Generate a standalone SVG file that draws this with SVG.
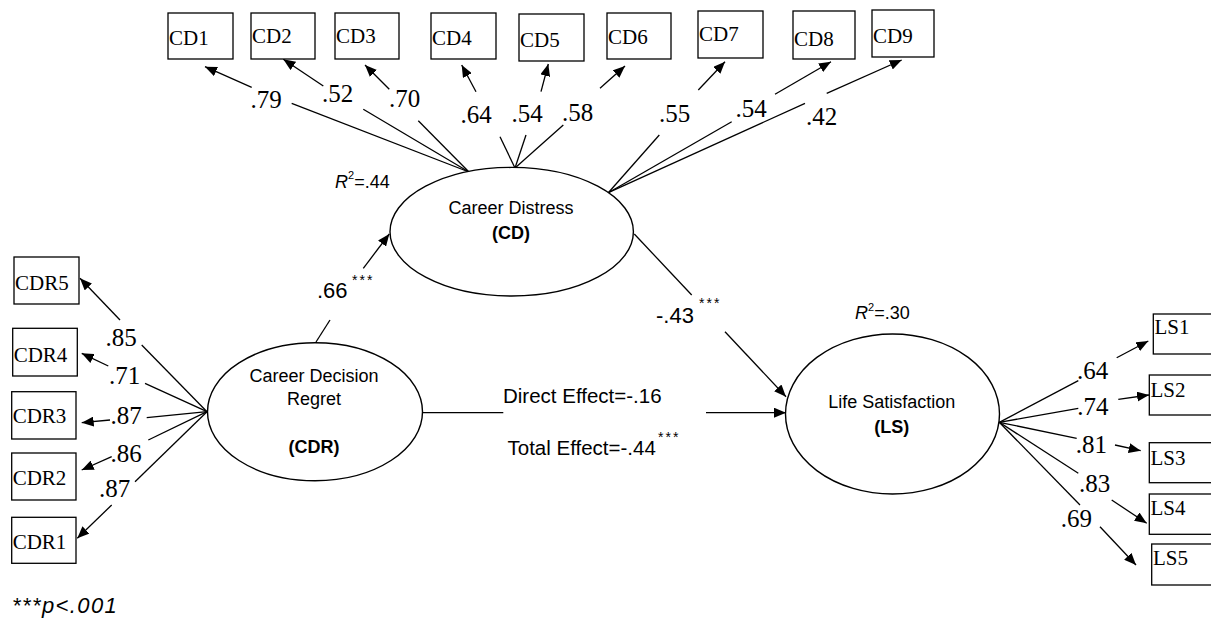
<svg xmlns="http://www.w3.org/2000/svg" width="1211" height="623" viewBox="0 0 1211 623">
<style>
.box{fill:#fff;stroke:#000;stroke-width:1.3}
.ell{fill:#fff;stroke:#000;stroke-width:1.4}
.ln{fill:none;stroke:#000;stroke-width:1.3}
.bt{font-family:"Liberation Serif",serif;font-size:21px;fill:#000}
.num{font-family:"Liberation Serif",serif;font-size:25px;fill:#000}
.lat{font-family:"Liberation Sans",Arial,sans-serif;font-size:18px;fill:#000;text-anchor:middle}
.latb{font-family:"Liberation Sans",Arial,sans-serif;font-size:18px;font-weight:bold;fill:#000;text-anchor:middle}
.sn{font-family:"Liberation Sans",Arial,sans-serif;font-size:22px;fill:#000}
.eff{font-family:"Liberation Sans",Arial,sans-serif;font-size:20.5px;fill:#000}
.r2{font-family:"Liberation Sans",Arial,sans-serif;font-size:18px;fill:#000}
.st{font-family:"Liberation Sans",Arial,sans-serif;font-size:14px;fill:#000;letter-spacing:2px}
</style>
<defs>
<marker id="ah" viewBox="0 0 12 10" refX="12" refY="5" markerWidth="12" markerHeight="10" markerUnits="userSpaceOnUse" orient="auto">
<path d="M0,0 L12,5 L0,10 z" fill="#000"/>
</marker>
</defs>
<rect width="1211" height="623" fill="#fff"/>

<g id="connectors">
<!-- CD indicators -->
<path class="ln" d="M251.7,87.3 L205,66.7" marker-end="url(#ah)"/>
<path class="ln" d="M291.7,103.3 L469,172"/>
<path class="ln" d="M323.3,86 L283.3,59.3" marker-end="url(#ah)"/>
<path class="ln" d="M363.3,109.3 L469,172"/>
<path class="ln" d="M389.3,89.3 L365,65" marker-end="url(#ah)"/>
<path class="ln" d="M418.3,120.7 L469,172"/>
<path class="ln" d="M476,91.7 L461.7,65" marker-end="url(#ah)"/>
<path class="ln" d="M500,136.7 L515,168"/>
<path class="ln" d="M541,91.7 L548.3,64" marker-end="url(#ah)"/>
<path class="ln" d="M526,135 L515,168"/>
<path class="ln" d="M600,88.3 L625,66" marker-end="url(#ah)"/>
<path class="ln" d="M563.3,125 L515,168"/>
<path class="ln" d="M698.3,90 L725,61.7" marker-end="url(#ah)"/>
<path class="ln" d="M659.3,135 L608.3,192.7"/>
<path class="ln" d="M775,94.3 L831,61.7" marker-end="url(#ah)"/>
<path class="ln" d="M731.7,121.7 L608.3,192.7"/>
<path class="ln" d="M826.7,93.3 L901.7,60" marker-end="url(#ah)"/>
<path class="ln" d="M805,103.3 L608.3,192.7"/>
<!-- CDR indicators -->
<path class="ln" d="M120,320 L80,278.3" marker-end="url(#ah)"/>
<path class="ln" d="M141.7,345 L207,411.7"/>
<path class="ln" d="M108.3,366 L81.7,353.3" marker-end="url(#ah)"/>
<path class="ln" d="M145,383.3 L207,411.7"/>
<path class="ln" d="M110,420 L81.7,422.7" marker-end="url(#ah)"/>
<path class="ln" d="M146.7,417.7 L207,411.7"/>
<path class="ln" d="M111.7,456.7 L81.7,470" marker-end="url(#ah)"/>
<path class="ln" d="M148.3,440 L207,411.7"/>
<path class="ln" d="M111.7,505 L77.3,538.3" marker-end="url(#ah)"/>
<path class="ln" d="M135,481.7 L207,411.7"/>
<!-- structural paths -->
<path class="ln" d="M316,342 L330,320"/>
<path class="ln" d="M363.3,268.3 L389.3,234" marker-end="url(#ah)"/>
<path class="ln" d="M634.3,234 L691.7,295"/>
<path class="ln" d="M725,331.7 L786,396.7" marker-end="url(#ah)"/>
<path class="ln" d="M421.7,412.7 L503.3,412.7"/>
<path class="ln" d="M706,412.7 L786,412.7" marker-end="url(#ah)"/>
<!-- LS indicators -->
<path class="ln" d="M999.3,422.3 L1078.3,380.7"/>
<path class="ln" d="M1116.7,357.7 L1148.3,341" marker-end="url(#ah)"/>
<path class="ln" d="M999.3,422.3 L1078.3,408.3"/>
<path class="ln" d="M1118.3,399.3 L1149,395" marker-end="url(#ah)"/>
<path class="ln" d="M999.3,422.3 L1076.7,438.3"/>
<path class="ln" d="M1115,445 L1140.7,450.7" marker-end="url(#ah)"/>
<path class="ln" d="M999.3,422.3 L1078.3,473.3"/>
<path class="ln" d="M1111.7,500 L1146.7,523.3" marker-end="url(#ah)"/>
<path class="ln" d="M999.3,422.3 L1080,505"/>
<path class="ln" d="M1100,526.7 L1136,565" marker-end="url(#ah)"/>
</g>

<g id="node-CD">
<ellipse class="ell" cx="511.7" cy="231.7" rx="121.7" ry="64.3"/>
<text class="lat" x="511" y="214.3">Career Distress</text>
<text class="latb" x="511" y="239">(CD)</text>
</g>
<g id="node-CDR">
<ellipse class="ell" cx="315" cy="411.7" rx="107.5" ry="69"/>
<text class="lat" x="314" y="381.7">Career Decision</text>
<text class="lat" x="314" y="405">Regret</text>
<text class="latb" x="314" y="453.3">(CDR)</text>
</g>
<g id="node-LS">
<ellipse class="ell" cx="892.5" cy="414" rx="107" ry="80"/>
<text class="lat" x="891.7" y="408.3">Life Satisfaction</text>
<text class="latb" x="891.7" y="433.3">(LS)</text>
</g>

<g id="node-CD1"><rect class="box" x="168" y="13" width="65" height="46"/><text class="bt" x="169" y="45">CD1</text></g>
<g id="node-CD2"><rect class="box" x="251" y="13" width="64" height="46"/><text class="bt" x="252" y="43.3">CD2</text></g>
<g id="node-CD3"><rect class="box" x="335" y="13" width="64" height="46"/><text class="bt" x="336" y="43.3">CD3</text></g>
<g id="node-CD4"><rect class="box" x="431" y="13" width="65" height="46"/><text class="bt" x="432" y="45">CD4</text></g>
<g id="node-CD5"><rect class="box" x="519" y="14" width="65" height="47"/><text class="bt" x="520" y="46.5">CD5</text></g>
<g id="node-CD6"><rect class="box" x="607" y="13" width="64" height="46"/><text class="bt" x="608" y="43.5">CD6</text></g>
<g id="node-CD7"><rect class="box" x="698" y="11" width="65" height="47"/><text class="bt" x="699" y="41">CD7</text></g>
<g id="node-CD8"><rect class="box" x="793" y="11" width="62" height="48"/><text class="bt" x="794" y="45.5">CD8</text></g>
<g id="node-CD9"><rect class="box" x="872" y="10" width="62" height="47"/><text class="bt" x="873" y="42.5">CD9</text></g>

<g id="node-CDR5"><rect class="box" x="14" y="257" width="65" height="47"/><text class="bt" x="15" y="290">CDR5</text></g>
<g id="node-CDR4"><rect class="box" x="12.7" y="328.3" width="64.6" height="47.7"/><text class="bt" x="13.7" y="361.7">CDR4</text></g>
<g id="node-CDR3"><rect class="box" x="11.7" y="391.7" width="64.3" height="47.3"/><text class="bt" x="12.7" y="423.3">CDR3</text></g>
<g id="node-CDR2"><rect class="box" x="11.7" y="453" width="64.3" height="47"/><text class="bt" x="12.7" y="485">CDR2</text></g>
<g id="node-CDR1"><rect class="box" x="11.7" y="517.3" width="64.3" height="46"/><text class="bt" x="12.7" y="549.3">CDR1</text></g>

<g id="node-LS1"><rect class="box" x="1153.3" y="314" width="70" height="40"/><text class="bt" x="1154.5" y="334.3">LS1</text></g>
<g id="node-LS2"><rect class="box" x="1149.3" y="375" width="70" height="40"/><text class="bt" x="1150.5" y="396.7">LS2</text></g>
<g id="node-LS3"><rect class="box" x="1149.3" y="442.7" width="70" height="40"/><text class="bt" x="1150.5" y="465">LS3</text></g>
<g id="node-LS4"><rect class="box" x="1149.3" y="494" width="70" height="40.3"/><text class="bt" x="1150.5" y="515">LS4</text></g>
<g id="node-LS5"><rect class="box" x="1151.7" y="544" width="70" height="41"/><text class="bt" x="1152.9" y="565">LS5</text></g>

<g id="labels">
<text class="num" x="250.5" y="108.3">.79</text>
<text class="num" x="322" y="101.7">.52</text>
<text class="num" x="389" y="106.7">.70</text>
<text class="num" x="460.5" y="123.3">.64</text>
<text class="num" x="511.5" y="122">.54</text>
<text class="num" x="562" y="120.7">.58</text>
<text class="num" x="659" y="121.7">.55</text>
<text class="num" x="735.5" y="117.3">.54</text>
<text class="num" x="806" y="125">.42</text>

<text class="num" x="105.5" y="346">.85</text>
<text class="num" x="109" y="384">.71</text>
<text class="num" x="110.5" y="424.3">.87</text>
<text class="num" x="110.5" y="461.7">.86</text>
<text class="num" x="99" y="496.7">.87</text>

<text class="num" x="1077" y="379.3">.64</text>
<text class="num" x="1077.3" y="415">.74</text>
<text class="num" x="1075.7" y="452.7">.81</text>
<text class="num" x="1079" y="491.7">.83</text>
<text class="num" x="1060.7" y="526.7">.69</text>

<text class="r2" x="335" y="188.3"><tspan font-style="italic">R</tspan><tspan font-size="11" dy="-9">2</tspan><tspan dy="9">=.44</tspan></text>
<text class="r2" x="855" y="319.3"><tspan font-style="italic">R</tspan><tspan font-size="11" dy="-8">2</tspan><tspan dy="8">=.30</tspan></text>

<text class="sn" x="317" y="298.3">.66</text>
<text class="st" x="352" y="285">***</text>
<text class="sn" x="656" y="323.3">-.43</text>
<text class="st" x="699" y="308">***</text>

<text class="eff" x="503" y="403.3">Direct Effect=-.16</text>
<text class="eff" x="507.5" y="455">Total Effect=-.44</text>
<text class="st" x="658" y="442">***</text>

<text x="12" y="613" font-family="Liberation Sans, Arial, sans-serif" font-size="22" font-style="italic" letter-spacing="1.4">***p&lt;.001</text>
</g>
</svg>
